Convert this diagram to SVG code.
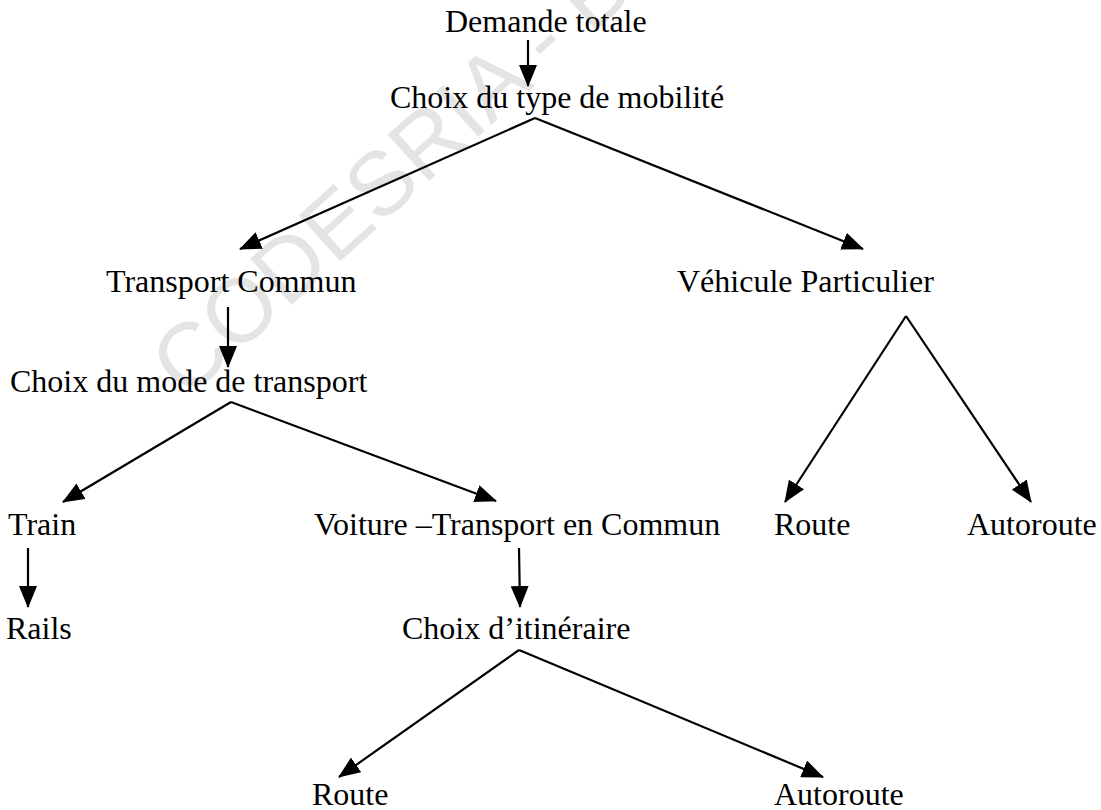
<svg xmlns="http://www.w3.org/2000/svg" width="1101" height="810" viewBox="0 0 1101 810">
  <style>
    .lbl { font-family: "Liberation Serif", "Times New Roman", serif; font-size: 32px; fill: #000; }
    .wm { font-family: "Liberation Sans", Arial, sans-serif; font-size: 90px; fill: #e4e4e4; }
    .edge { stroke: #000; stroke-width: 2.2; fill: none; marker-end: url(#head); }
  </style>
  <defs>
    <marker id="head" viewBox="0 0 22 18" refX="21" refY="9" markerWidth="22" markerHeight="18" markerUnits="userSpaceOnUse" orient="auto">
      <path d="M0,0 L22,9 L0,18 Z" fill="#000"/>
    </marker>
  </defs>
  <rect width="1101" height="810" fill="#fff"/>

  <!-- background stamp -->
  <text class="wm" transform="translate(186,400) rotate(-42)">CODESRIA - B</text>

  <!-- connectors -->
  <g id="connectors">
    <line class="edge" x1="528" y1="40" x2="528" y2="86"/>
    <line class="edge" x1="535" y1="118" x2="240" y2="249"/>
    <line class="edge" x1="535" y1="118" x2="863" y2="249"/>
    <line class="edge" x1="228" y1="307" x2="228" y2="367"/>
    <line class="edge" x1="231" y1="402" x2="63" y2="502"/>
    <line class="edge" x1="231" y1="402" x2="496" y2="501"/>
    <line class="edge" x1="906" y1="316" x2="785" y2="502"/>
    <line class="edge" x1="906" y1="316" x2="1031" y2="502"/>
    <line class="edge" x1="28" y1="548" x2="28" y2="607"/>
    <line class="edge" x1="519" y1="548" x2="520" y2="607"/>
    <line class="edge" x1="519" y1="650" x2="339" y2="777"/>
    <line class="edge" x1="519" y1="650" x2="823" y2="777"/>
  </g>

  <g id="demande-totale"><text class="lbl" x="445" y="32">Demande totale</text></g>
  <g id="choix-type-mobilite"><text class="lbl" x="390" y="108">Choix du type de mobilité</text></g>
  <g id="transport-commun"><text class="lbl" x="106" y="292">Transport Commun</text></g>
  <g id="vehicule-particulier"><text class="lbl" x="677" y="292">Véhicule Particulier</text></g>
  <g id="choix-mode-transport"><text class="lbl" x="10" y="392">Choix du mode de transport</text></g>
  <g id="train"><text class="lbl" x="8" y="535">Train</text></g>
  <g id="voiture-tc"><text class="lbl" x="314" y="535">Voiture –Transport en Commun</text></g>
  <g id="route-vp"><text class="lbl" x="774" y="535">Route</text></g>
  <g id="autoroute-vp"><text class="lbl" x="967" y="535">Autoroute</text></g>
  <g id="rails"><text class="lbl" x="6" y="639">Rails</text></g>
  <g id="choix-itineraire"><text class="lbl" x="402" y="639">Choix d’itinéraire</text></g>
  <g id="route"><text class="lbl" x="312" y="805">Route</text></g>
  <g id="autoroute"><text class="lbl" x="774" y="805">Autoroute</text></g>
</svg>
